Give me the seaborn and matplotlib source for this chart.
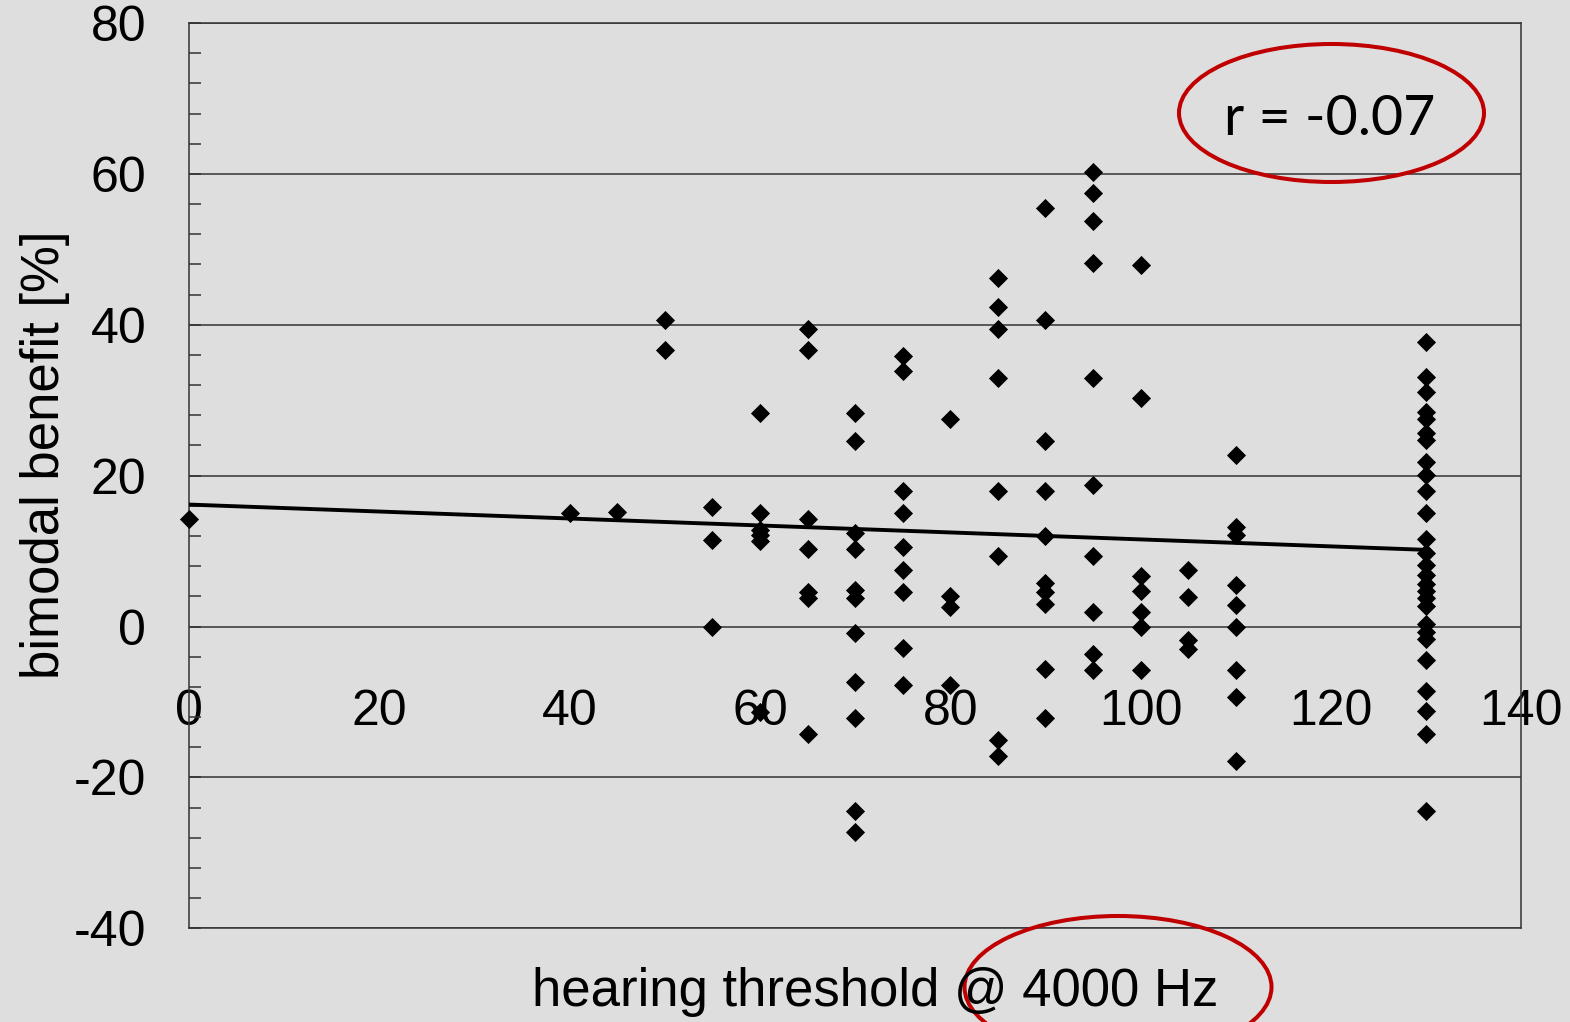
import numpy as np
import pandas as pd
import matplotlib
matplotlib.use("Agg")
import matplotlib.pyplot as plt
from matplotlib.ticker import MultipleLocator
from matplotlib.patches import Ellipse
import seaborn as sns

# ---- data ----
threshold_levels = [0, 40, 45, 50, 55, 60, 65, 70, 75, 80, 85, 90, 95, 100, 105, 110, 130]
benefit_0 = [14.2]
benefit_40 = [15.1]
benefit_45 = [15.2]
benefit_50 = [40.6, 36.7]
benefit_55 = [15.9, 11.5, 0.0]
benefit_60 = [28.3, 15.1, 12.8, 12.1, 11.4, -11.3]
benefit_65 = [39.4, 36.7, 14.3, 10.3, 4.6, 3.8, -14.2]
benefit_70 = [28.3, 24.6, 12.4, 10.3, 4.8, 3.8, -0.9, -7.4, -12.1, -24.5, -27.3]
benefit_75 = [35.9, 33.9, 17.9, 15.1, 10.6, 7.5, 4.6, -2.9, -7.8]
benefit_80 = [27.5, 4.0, 2.6, -7.7]
benefit_85 = [46.2, 42.3, 39.4, 33.0, 17.9, 9.4, -15.0, -17.2]
benefit_90 = [55.5, 40.6, 24.6, 17.9, 12.0, 5.8, 4.6, 3.0, -5.6, -12.1]
benefit_95 = [60.3, 57.4, 53.8, 48.2, 33.0, 18.8, 9.4, 1.9, -3.6, -5.8]
benefit_100 = [47.9, 30.3, 6.7, 4.7, 1.9, 0.0, -5.7]
benefit_105 = [7.5, 3.9, -1.8, -3.0]
benefit_110 = [22.7, 13.2, 12.1, 5.5, 2.8, 0.0, -5.7, -9.4, -17.8]
benefit_130 = [37.7, 33.1, 31.1, 28.5, 27.5, 25.6, 24.7, 21.8, 20.1, 17.9, 15.0,
               11.6, 9.7, 8.1, 6.8, 5.7, 4.7, 3.8, 2.7, 0.3, -0.7, -1.6, -4.5,
               -8.6, -11.2, -14.2, -24.4]

benefit_groups = [benefit_0, benefit_40, benefit_45, benefit_50, benefit_55, benefit_60,
                  benefit_65, benefit_70, benefit_75, benefit_80, benefit_85, benefit_90,
                  benefit_95, benefit_100, benefit_105, benefit_110, benefit_130]

x_ticks = [0, 20, 40, 60, 80, 100, 120, 140]
y_ticks = [-40, -20, 0, 20, 40, 60, 80]
x_label = "hearing threshold @ 4000 Hz"
y_label = "bimodal benefit [%]"
r_text = "r = -0.07"

rows = []
for lvl, vals in zip(threshold_levels, benefit_groups):
    for v in vals:
        rows.append((lvl, v))
df = pd.DataFrame(rows, columns=["threshold", "benefit"])

# ---- style ----
sns.set_style("white")
plt.rcParams["font.family"] = ["Liberation Sans", "DejaVu Sans"]
plt.rcParams["axes.unicode_minus"] = False
bg = "#dededf"
frame_col = "#333333"

W, H = 1570, 1022
fig = plt.figure(figsize=(W / 100, H / 100), dpi=100)
fig.patch.set_facecolor(bg)
ax = fig.add_axes([189.3 / W, 1 - 928.3 / H, (1521 - 189.3) / W, (928.3 - 23) / H])
ax.set_facecolor(bg)

sns.scatterplot(data=df, x="threshold", y="benefit", marker="D", s=95, color="black",
                linewidth=0, ax=ax, legend=False, clip_on=False, zorder=4)
sns.regplot(data=df, x="threshold", y="benefit", scatter=False, ci=None, truncate=True,
            color="black", line_kws=dict(linewidth=2.8, zorder=3), ax=ax)

ax.set_xlim(0, 140)
ax.set_ylim(-40, 80)
ax.set_xlabel("")
ax.set_ylabel("")

# y axis
ax.set_yticks(y_ticks)
ax.yaxis.set_minor_locator(MultipleLocator(4))
ax.tick_params(axis="y", which="major", left=True, direction="in", length=8.5, width=1.1,
               color=frame_col, labelsize=36, labelcolor="black", pad=31)
ax.tick_params(axis="y", which="minor", left=True, direction="in", length=8.5, width=1.1,
               color=frame_col)
ax.yaxis.grid(True, which="major", color=frame_col, linewidth=1.1)
ax.xaxis.grid(False)
ax.set_axisbelow(True)

# x axis: labels sit below the zero line (value axis crosses at 0)
ax.set_xticks(x_ticks)
ax.tick_params(axis="x", which="both", length=0, labelbottom=False)
sec = ax.secondary_xaxis(40 / 120)
sec.set_xticks(x_ticks)
sec.tick_params(axis="x", length=0, labelsize=36, labelcolor="black", pad=45)
sec.spines["bottom"].set_visible(False)
sec.spines["top"].set_visible(False)

for s in ax.spines.values():
    s.set_visible(True)
    s.set_color(frame_col)
    s.set_linewidth(1.1)

# axis titles
fig.text(45 / W, 1 - 455 / H, y_label, rotation=90, ha="center", va="center",
         fontsize=38, color="black")
fig.text(875 / W, 1 - 1006 / H, x_label, ha="center", va="baseline",
         fontsize=38, color="black")

# correlation annotation
fig.text(1330 / W, 1 - 135 / H, r_text, ha="center", va="baseline",
         fontsize=40, color="black", family=["Lato", "DejaVu Sans"])

red = "#c00000"
e1 = Ellipse((1331.5 / 100, (H - 113) / 100), 3.05, 1.38, transform=fig.dpi_scale_trans,
             fill=False, edgecolor=red, linewidth=2.9)
e2 = Ellipse((1118 / 100, (H - 987) / 100), 3.07, 1.42, transform=fig.dpi_scale_trans,
             fill=False, edgecolor=red, linewidth=2.9)
fig.add_artist(e1)
fig.add_artist(e2)

fig.savefig("out.png", dpi=100, facecolor=bg)
